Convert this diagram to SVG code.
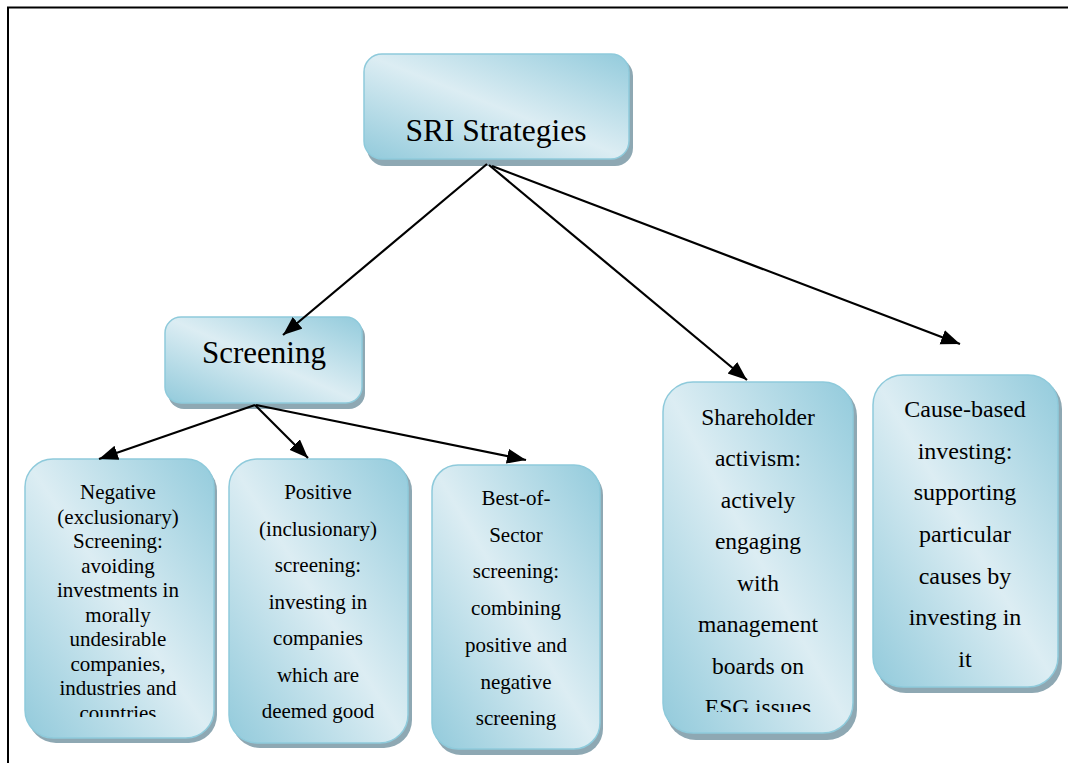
<svg xmlns="http://www.w3.org/2000/svg" width="1068" height="763" viewBox="0 0 1068 763">
<style>
.box{fill:url(#g);stroke:#8ecadb;stroke-width:1.5}
.sh{fill:#8ea8b3}
.t{fill:#000;text-anchor:middle;font-family:"Liberation Serif","Times New Roman",serif}
.c{stroke:#000;stroke-width:2.2;fill:none;marker-end:url(#ah)}
</style>
<defs>
<linearGradient id="g" x1="1" y1="0" x2="0" y2="1">
<stop offset="0" stop-color="#93cbdc"/>
<stop offset="0.5" stop-color="#dcedf3"/>
<stop offset="1" stop-color="#92cadb"/>
</linearGradient>
<marker id="ah" markerUnits="userSpaceOnUse" markerWidth="22" markerHeight="18" refX="19" refY="7.5" orient="auto">
<path d="M0,0 L19,7.5 L0,15 z" fill="#000"/>
</marker>
<clipPath id="clipNeg"><rect x="20" y="455" width="200" height="262"/></clipPath>
<clipPath id="clipSh"><rect x="660" y="380" width="200" height="332"/></clipPath>
</defs>
<rect width="1068" height="763" fill="#fff"/>
<g id="frame" stroke="#000" stroke-width="2">
<line x1="7" y1="7.5" x2="1068" y2="7.5"/>
<line x1="8" y1="7" x2="8" y2="763"/>
</g>
<g id="sri">
<rect class="sh" x="367" y="58" width="266" height="108" rx="18"/>
<rect class="box" x="364" y="54" width="265" height="105" rx="18"/>
<text class="t" x="496" y="141" font-size="31.5">SRI Strategies</text>
</g>
<g id="screening">
<rect class="sh" x="168" y="321" width="197" height="88" rx="16"/>
<rect class="box" x="165" y="317" width="197" height="86" rx="16"/>
<text class="t" x="264" y="363" font-size="31">Screening</text>
</g>
<g id="negative">
<rect class="sh" x="28" y="463" width="189" height="280" rx="28"/>
<rect class="box" x="25" y="459" width="189" height="279" rx="28"/>
<g clip-path="url(#clipNeg)" font-size="21">
<text class="t" x="118" y="499">Negative</text>
<text class="t" x="118" y="523.5">(exclusionary)</text>
<text class="t" x="118" y="548">Screening:</text>
<text class="t" x="118" y="572.5">avoiding</text>
<text class="t" x="118" y="597">investments in</text>
<text class="t" x="118" y="621.5">morally</text>
<text class="t" x="118" y="646">undesirable</text>
<text class="t" x="118" y="670.5">companies,</text>
<text class="t" x="118" y="695">industries and</text>
<text class="t" x="118" y="719.5">countries</text>
</g>
</g>
<g id="positive">
<rect class="sh" x="232" y="463" width="180" height="285" rx="28"/>
<rect class="box" x="229" y="459" width="179" height="284" rx="28"/>
<g font-size="21">
<text class="t" x="318" y="499">Positive</text>
<text class="t" x="318" y="535.5">(inclusionary)</text>
<text class="t" x="318" y="572">screening:</text>
<text class="t" x="318" y="608.5">investing in</text>
<text class="t" x="318" y="645">companies</text>
<text class="t" x="318" y="681.5">which are</text>
<text class="t" x="318" y="718">deemed good</text>
</g>
</g>
<g id="bestof">
<rect class="sh" x="435" y="469" width="168" height="286" rx="26"/>
<rect class="box" x="432" y="465" width="168" height="284" rx="26"/>
<g font-size="21">
<text class="t" x="516" y="505">Best-of-</text>
<text class="t" x="516" y="541.7">Sector</text>
<text class="t" x="516" y="578.4">screening:</text>
<text class="t" x="516" y="615">combining</text>
<text class="t" x="516" y="651.8">positive and</text>
<text class="t" x="516" y="688.5">negative</text>
<text class="t" x="516" y="725.2">screening</text>
</g>
</g>
<g id="shareholder">
<rect class="sh" x="666" y="386" width="191" height="354" rx="30"/>
<rect class="box" x="663" y="382" width="190" height="351" rx="30"/>
<g clip-path="url(#clipSh)" font-size="23.5">
<text class="t" x="758" y="425">Shareholder</text>
<text class="t" x="758" y="466">activism:</text>
<text class="t" x="758" y="507.5">actively</text>
<text class="t" x="758" y="549">engaging</text>
<text class="t" x="758" y="591">with</text>
<text class="t" x="758" y="632">management</text>
<text class="t" x="758" y="673.5">boards on</text>
<text class="t" x="758" y="715">ESG issues</text>
</g>
</g>
<g id="cause">
<rect class="sh" x="876" y="379" width="186" height="314" rx="30"/>
<rect class="box" x="873" y="375" width="185" height="312" rx="30"/>
<g font-size="24">
<text class="t" x="965" y="417">Cause-based</text>
<text class="t" x="965" y="458.5">investing:</text>
<text class="t" x="965" y="500">supporting</text>
<text class="t" x="965" y="542">particular</text>
<text class="t" x="965" y="583.5">causes by</text>
<text class="t" x="965" y="625">investing in</text>
<text class="t" x="965" y="666.5">it</text>
</g>
</g>
<g id="connectors">
<line class="c" x1="487" y1="164" x2="283" y2="335"/>
<line class="c" x1="489" y1="165" x2="747" y2="380"/>
<line class="c" x1="492" y1="166" x2="960" y2="344"/>
<line class="c" x1="255" y1="405" x2="99" y2="459"/>
<line class="c" x1="255" y1="405" x2="308" y2="458"/>
<line class="c" x1="256" y1="405" x2="526" y2="460"/>
</g>
</svg>
